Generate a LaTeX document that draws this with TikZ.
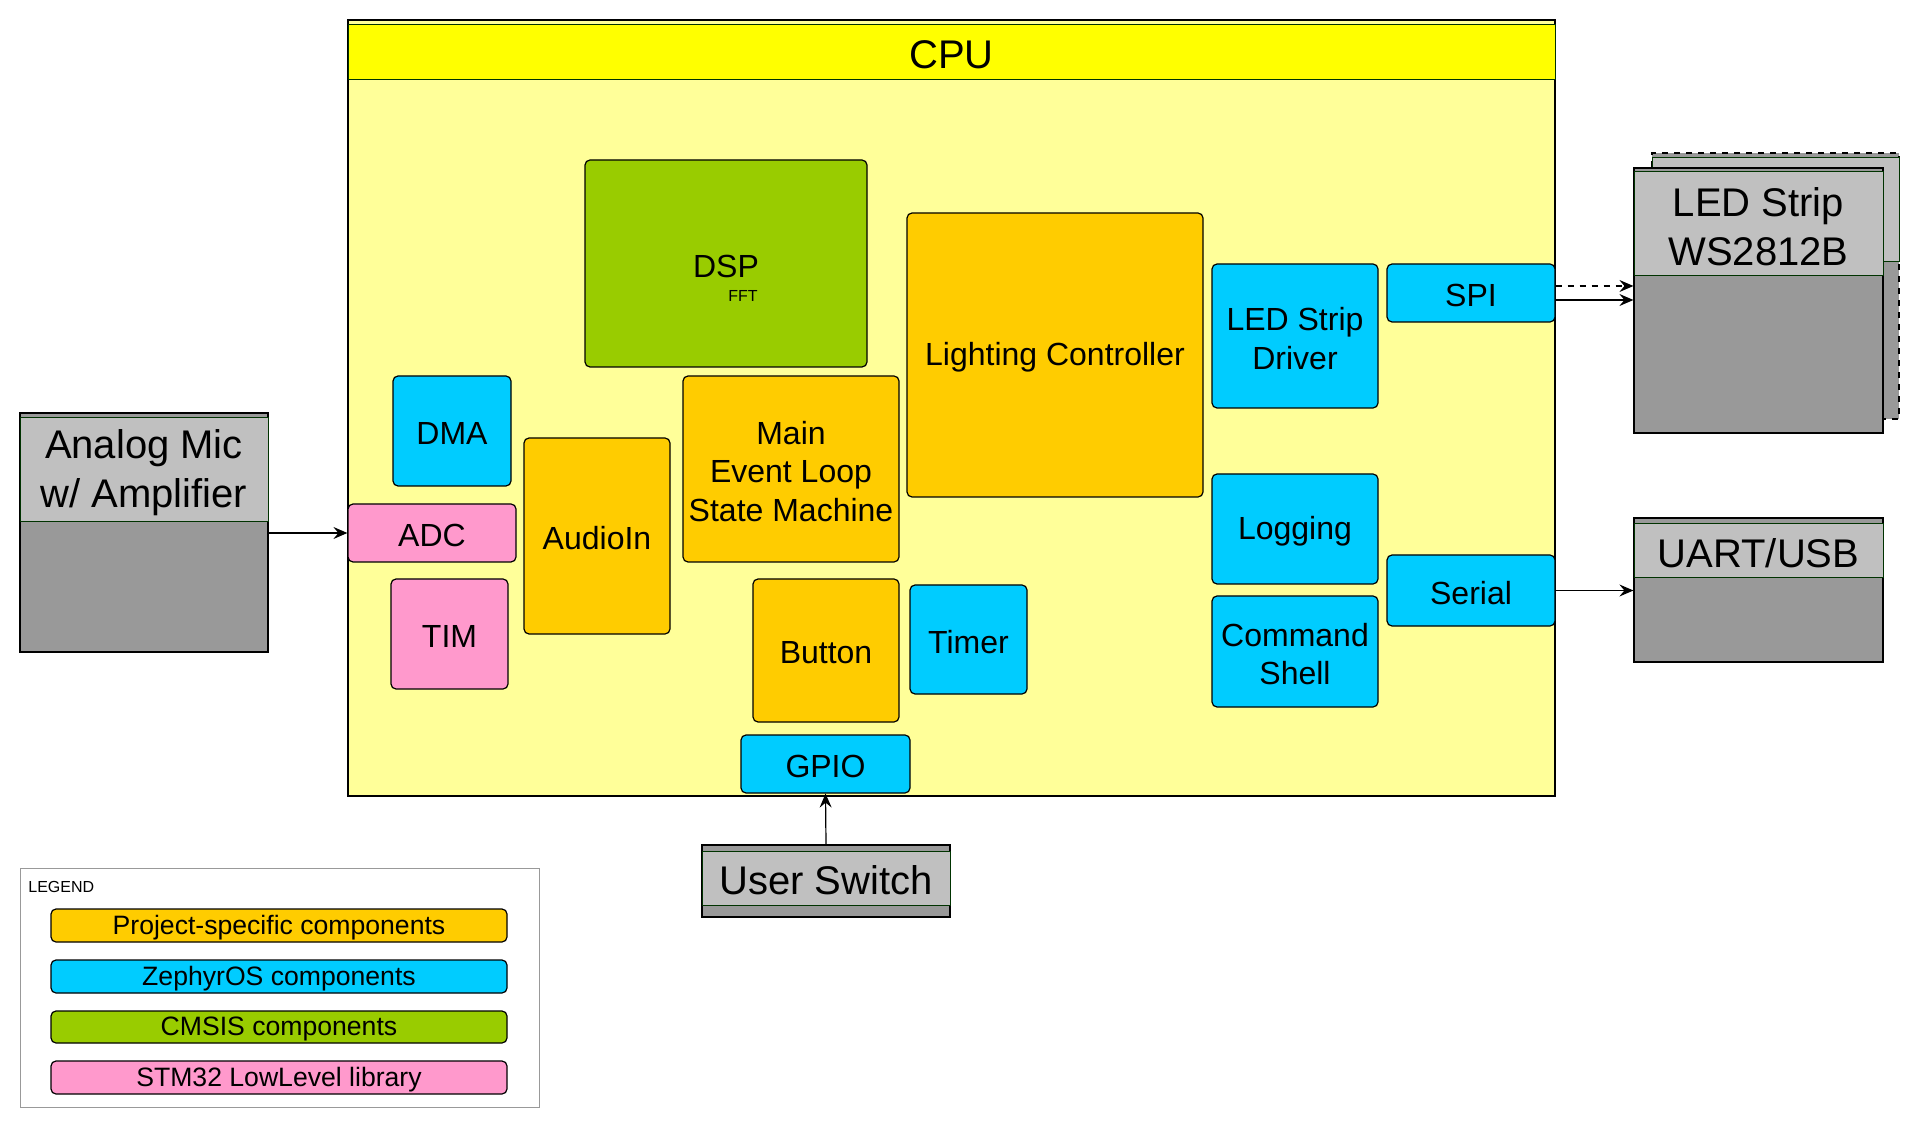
\documentclass[tikz,border=0pt]{standalone}
\usepackage{fontspec}
\setmainfont{Liberation Sans}
\usetikzlibrary{fit,arrows.meta}
\definecolor{cpubody}{HTML}{FFFF99}
\definecolor{cpuhead}{HTML}{FFFF00}
\definecolor{projc}{HTML}{FFCC00}
\definecolor{zephc}{HTML}{00CCFF}
\definecolor{cmsisc}{HTML}{99CC00}
\definecolor{stmc}{HTML}{FF99CC}
\definecolor{lgray}{HTML}{C0C0C0}
\definecolor{dgray}{HTML}{999999}
\definecolor{dgreen}{HTML}{003300}
\tikzset{
  comp/.style={draw=black, line width=0.6pt, rounded corners=2.5pt, inner sep=0pt},
  proj/.style={comp, fill=projc},
  zeph/.style={comp, fill=zephc},
  cmsis/.style={comp, fill=cmsisc},
  stm/.style={comp, fill=stmc},
  lbl/.style={align=center, inner sep=0pt, yshift=-1.2pt, font=\fontsize{16}{19.2}\selectfont},
  biglbl/.style={align=center, inner sep=0pt, yshift=-1.3pt, font=\fontsize{20}{24.5}\selectfont},
  leglbl/.style={align=center, inner sep=0pt, yshift=-1.1pt, font=\fontsize{13.3}{16}\selectfont},
  periph/.style={draw=black, line width=0.6pt, fill=dgray, inner sep=0pt},
  phead/.style={draw=dgreen, line width=0.5pt, fill=lgray, inner sep=0pt},
  conn/.style={line width=0.6pt, -{Stealth[length=7pt, width=6pt, inset=2.5pt]}},
}
\begin{document}
\begin{tikzpicture}[x=0.5pt, y=-0.5pt]
\useasboundingbox (0,0) rectangle (1920,1127);
% CPU
\node[draw=black, line width=0.6pt, fill=cpubody, inner sep=0pt, fit={(348,20) (1555,796)}] (cpu) {};
\node[draw=dgreen, line width=0.5pt, fill=cpuhead, inner sep=0pt, fit={(348,25) (1555,80)}] (cpuhead) {};
\node[biglbl] (cpu-t) at (cpuhead.center) {CPU};
% components
\node[cmsis, fit={(585,160) (867,367)}] (dsp) {};
\node[lbl] (dsp-t) at (726,264) {DSP};
\node[inner sep=0pt, yshift=-0.6pt, font=\fontsize{8}{9.6}\selectfont] (fft-t) at (743,295) {FFT};
\node[proj, fit={(907,213) (1203,497)}] (light) {};
\node[lbl] (light-t) at (light.center) {Lighting Controller};
\node[zeph, fit={(1212,264) (1378,408)}] (ledd) {};
\node[lbl] (ledd-t) at (ledd.center) {LED Strip\\Driver};
\node[zeph, fit={(1387,264) (1555,322)}] (spi) {};
\node[lbl] (spi-t) at (spi.center) {SPI};
\node[zeph, fit={(1212,474) (1378,584)}] (logg) {};
\node[lbl] (logg-t) at (logg.center) {Logging};
\node[zeph, fit={(1212,596) (1378,707)}] (cmd) {};
\node[lbl] (cmd-t) at (cmd.center) {Command\\Shell};
\node[zeph, fit={(1387,555) (1555,626)}] (serial) {};
\node[lbl] (serial-t) at (serial.center) {Serial};
\node[zeph, fit={(393,376) (511,486)}] (dma) {};
\node[lbl] (dma-t) at (dma.center) {DMA};
\node[stm, fit={(348,504) (516,562)}] (adc) {};
\node[lbl] (adc-t) at (adc.center) {ADC};
\node[stm, fit={(391,579) (508,689)}] (tim) {};
\node[lbl] (tim-t) at (tim.center) {TIM};
\node[proj, fit={(524,438) (670,634)}] (audio) {};
\node[lbl] (audio-t) at (audio.center) {AudioIn};
\node[proj, fit={(683,376) (899,562)}] (mainl) {};
\node[lbl] (mainl-t) at (mainl.center) {Main\\Event Loop\\State Machine};
\node[proj, fit={(753,579) (899,722)}] (button) {};
\node[lbl] (button-t) at (button.center) {Button};
\node[zeph, fit={(910,585) (1027,694)}] (timer) {};
\node[lbl] (timer-t) at (timer.center) {Timer};
\node[zeph, fit={(741,735) (910,793)}] (gpio) {};
\node[lbl] (gpio-t) at (gpio.center) {GPIO};
% Analog mic
\node[periph, fit={(20,413) (268,652)}] (mic) {};
\node[phead, fit={(20,418) (268,522)}] (michead) {};
\node[biglbl] (mic-t) at (michead.center) {Analog Mic\\w/ Amplifier};
% LED strip (stacked)
\node[periph, dashed, fit={(1652,153) (1899,419)}] (ledback) {};
\node[phead, fit={(1652,158) (1899,262)}] (ledbackhead) {};
\node[periph, fit={(1634,168) (1883,433)}] (led) {};
\node[phead, fit={(1634,172) (1883,276)}] (ledhead) {};
\node[biglbl] (led-t) at (ledhead.center) {LED Strip\\WS2812B};
% UART
\node[periph, fit={(1634,518) (1883,662)}] (uart) {};
\node[phead, fit={(1634,524) (1883,578)}] (uarthead) {};
\node[biglbl] (uart-t) at (uarthead.center) {UART/USB};
% User switch
\node[periph, fit={(702,845) (950,917)}] (usw) {};
\node[phead, fit={(702,851) (950,905)}] (uswhead) {};
\node[biglbl] (usw-t) at (uswhead.center) {User Switch};
% connectors
\draw[conn] (mic.east |- adc.west) -- (adc.west);
\draw[conn] (usw.north) -- (gpio.south);
\draw[conn, dashed] ([yshift=3.5pt]spi.east) -- ([yshift=3.5pt]spi.east -| led.west);
\draw[conn] ([yshift=-3.5pt]spi.east) -- ([yshift=-3.5pt]spi.east -| led.west);
\draw[conn] (serial.east) -- (serial.east -| uart.west);
% legend
\node[draw=dgray, line width=0.5pt, fill=white, inner sep=0pt, fit={(20,868) (539,1107)}] (legend) {};
\node[anchor=west, inner sep=0pt, font=\fontsize{8}{9.6}\selectfont] (legtitle) at (28,887) {LEGEND};
\node[comp, fill=projc, fit={(51,909) (507,942)}] (lg1) {};
\node[leglbl] (lg1-t) at (lg1.center) {Project-specific components};
\node[comp, fill=zephc, fit={(51,960) (507,993)}] (lg2) {};
\node[leglbl] (lg2-t) at (lg2.center) {ZephyrOS components};
\node[comp, fill=cmsisc, fit={(51,1011) (507,1043)}] (lg3) {};
\node[leglbl] (lg3-t) at (lg3.center) {CMSIS components};
\node[comp, fill=stmc, fit={(51,1061) (507,1094)}] (lg4) {};
\node[leglbl] (lg4-t) at (lg4.center) {STM32 LowLevel library};
\end{tikzpicture}
\end{document}
